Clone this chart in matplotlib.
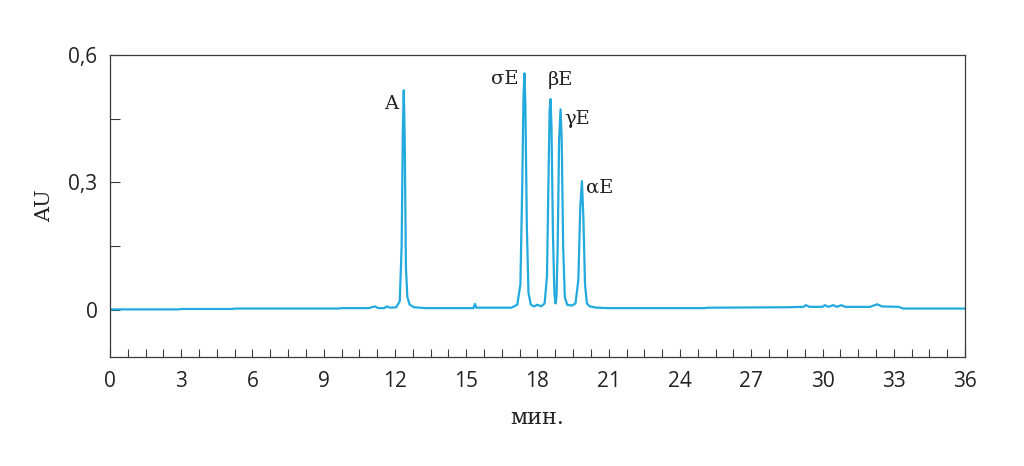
import matplotlib
matplotlib.use('Agg')
import matplotlib.pyplot as plt
from matplotlib.ticker import MultipleLocator, FixedLocator

# Chromatogram points (time in min, absorbance in AU)
t_min = [0.0, 2.9, 3.0, 5.1, 5.3, 9.6, 9.8, 10.9, 11.15, 11.3, 11.55, 11.66, 11.8,
         12.05, 12.2, 12.28, 12.33, 12.37, 12.41, 12.46, 12.52, 12.62, 12.8, 13.3,
         15.3, 15.37, 15.42, 16.9, 17.15, 17.28, 17.36, 17.41, 17.45, 17.49, 17.55,
         17.62, 17.72, 17.85, 18.0, 18.15, 18.3, 18.40, 18.47, 18.51, 18.55, 18.59,
         18.65, 18.71, 18.76, 18.80, 18.85, 18.91, 18.97, 19.02, 19.08, 19.15, 19.25,
         19.45, 19.6, 19.72, 19.80, 19.87, 19.93, 20.0, 20.08, 20.2, 20.5, 21.0,
         25.0, 25.2, 28.5, 29.2, 29.3, 29.45, 30.0, 30.1, 30.25, 30.45, 30.6, 30.8,
         30.95, 32.0, 32.3, 32.5, 33.2, 33.4, 36.0]
au = [0.001, 0.001, 0.002, 0.002, 0.003, 0.003, 0.004, 0.004, 0.008, 0.004, 0.004, 0.008, 0.005,
      0.006, 0.02, 0.15, 0.42, 0.517, 0.40, 0.10, 0.03, 0.012, 0.006, 0.004,
      0.004, 0.014, 0.005, 0.005, 0.012, 0.06, 0.30, 0.50, 0.557, 0.48, 0.20,
      0.04, 0.012, 0.008, 0.012, 0.008, 0.015, 0.08, 0.33, 0.47, 0.496, 0.43,
      0.18, 0.04, 0.015, 0.03, 0.15, 0.40, 0.472, 0.40, 0.15, 0.03, 0.012,
      0.01, 0.015, 0.07, 0.24, 0.303, 0.22, 0.06, 0.015, 0.008, 0.005, 0.004,
      0.004, 0.005, 0.006, 0.007, 0.011, 0.007, 0.007, 0.011, 0.007, 0.011, 0.007, 0.011,
      0.007, 0.007, 0.013, 0.008, 0.007, 0.003, 0.003]

# Peak labels
peak_names = ['A', 'σE', 'βE', 'γE', 'αE']
peak_t = [12.37, 17.45, 18.55, 18.97, 19.87]
peak_au = [0.517, 0.557, 0.496, 0.472, 0.303]

x_ticks = list(range(0, 37, 3))
y_ticks = [0, 0.3, 0.6]
y_labels = ['0', '0,3', '0,6']

serif = 'DejaVu Serif'
sans = 'Open Sans'
line_col = '#22aadf'
axis_col = '#3a3a3a'
txt_col = '#222222'

fig = plt.figure(figsize=(10.24, 4.66), dpi=100)
ax = fig.add_axes([0.1074, 0.234, 0.835, 0.648])

ax.plot(t_min, au, color=line_col, lw=1.6, solid_joinstyle='round')

ax.set_xlim(0, 36)
ax.set_ylim(-0.111, 0.6)

# ticks
ax.xaxis.set_major_locator(FixedLocator(x_ticks))
ax.xaxis.set_minor_locator(MultipleLocator(0.75))
ax.set_xticklabels([str(v) for v in x_ticks])
ax.yaxis.set_major_locator(FixedLocator(y_ticks))
ax.yaxis.set_minor_locator(FixedLocator([0.15, 0.45]))
ax.set_yticklabels(y_labels)

ax.tick_params(axis='x', which='both', direction='in', length=6, width=0.8,
               color=axis_col, pad=10, labelsize=15, labelcolor=txt_col)
ax.tick_params(axis='y', which='both', direction='in', length=7, width=0.8,
               color=axis_col, pad=9, labelsize=15, labelcolor=txt_col)
for lab in ax.get_xticklabels() + ax.get_yticklabels():
    lab.set_family(sans)

for sp in ax.spines.values():
    sp.set_color(axis_col)
    sp.set_linewidth(0.9)

ax.set_xlabel('мин.', fontsize=16, family=serif, color=txt_col, labelpad=11)
ax.set_ylabel('AU', fontsize=15, family=serif, color=txt_col, labelpad=10)

# peak annotations (offsets in points from the peak top)
offsets = [(-9, -10), (-14, -4), (7, 14), (12, -7), (13, -4.5)]
for name, tx, ty, (dx, dy) in zip(peak_names, peak_t, peak_au, offsets):
    ax.annotate(name, (tx, ty), xytext=(dx, dy), textcoords='offset points',
                ha='center', va='center', fontsize=14, family=serif, color=txt_col)

fig.savefig('out.png', dpi=100)
